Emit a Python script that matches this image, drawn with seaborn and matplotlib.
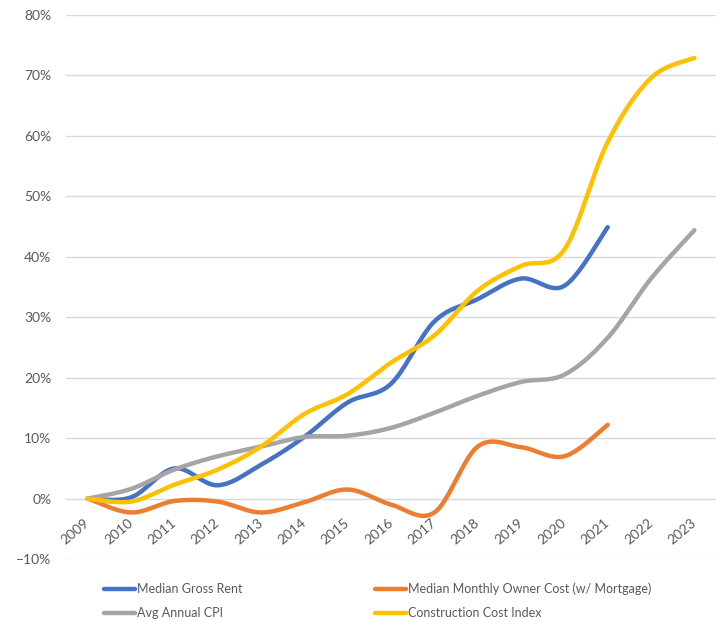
import matplotlib.pyplot as plt
import numpy as np
import pandas as pd
import seaborn as sns
from matplotlib.ticker import PercentFormatter

years = [2009, 2010, 2011, 2012, 2013, 2014, 2015, 2016, 2017, 2018, 2019, 2020, 2021, 2022, 2023]
median_gross_rent = [0.0, 0.2, 5.0, 2.2, 5.6, 10.2, 15.9, 19.0, 29.3, 33.0, 36.4, 35.2, 44.9, None, None]
owner_cost = [0.0, -2.3, -0.4, -0.5, -2.3, -0.6, 1.5, -1.0, -2.3, 8.6, 8.5, 7.0, 12.2, None, None]
avg_cpi = [0.0, 1.6, 4.8, 7.0, 8.6, 10.2, 10.4, 11.7, 14.2, 17.0, 19.3, 20.5, 26.6, 36.4, 44.4]
construction_index = [0.0, -0.5, 2.3, 4.8, 8.6, 14.0, 17.3, 22.5, 27.0, 34.4, 38.5, 41.2, 59.0, 69.6, 72.9]

series = {
    'Median Gross Rent': median_gross_rent,
    'Median Monthly Owner Cost (w/ Mortgage)': owner_cost,
    'Avg Annual CPI': avg_cpi,
    'Construction Cost Index': construction_index,
}
colors = {
    'Median Gross Rent': '#4472C4',
    'Median Monthly Owner Cost (w/ Mortgage)': '#ED7D31',
    'Avg Annual CPI': '#A5A5A5',
    'Construction Cost Index': '#FFC000',
}


def smooth(xs, ys, n=24):
    # Excel-style smoothed line: Bezier segments with Catmull-Rom control points
    pts = np.array([(x, y) for x, y in zip(xs, ys) if y is not None], dtype=float)
    out = []
    for i in range(len(pts) - 1):
        p0 = pts[max(i - 1, 0)]
        p1 = pts[i]
        p2 = pts[i + 1]
        p3 = pts[min(i + 2, len(pts) - 1)]
        c1 = p1 + (p2 - p0) / 6
        c2 = p2 - (p3 - p1) / 6
        t = np.linspace(0, 1, n, endpoint=(i == len(pts) - 2))[:, None]
        seg = (1 - t) ** 3 * p1 + 3 * (1 - t) ** 2 * t * c1 + 3 * (1 - t) * t ** 2 * c2 + t ** 3 * p2
        out.append(seg)
    return np.vstack(out)


frames = []
for name, vals in series.items():
    curve = smooth(range(len(years)), [v / 100 if v is not None else None for v in vals])
    frames.append(pd.DataFrame({'x': curve[:, 0], 'y': curve[:, 1], 'series': name}))
df = pd.concat(frames, ignore_index=True)

sns.set_theme(style='white')
plt.rcParams['font.family'] = ['Lato', 'DejaVu Sans']

fig = plt.figure(figsize=(7.24, 6.21), dpi=100)
ax = fig.add_axes([0.0912, 0.0998, 0.8978, 0.876])

sns.lineplot(data=df, x='x', y='y', hue='series', palette=colors, linewidth=3.2,
             sort=False, estimator=None, ax=ax, legend=False, solid_capstyle='round')

# category axis sits on the 0% line, as in Excel
ax.spines['bottom'].set_position(('data', 0))
for s in ax.spines.values():
    s.set_visible(False)

ax.set_xlim(-0.5, len(years) - 0.5)
ax.set_ylim(-0.1, 0.8)
ax.set_yticks(np.arange(-0.1, 0.81, 0.1))
ax.yaxis.set_major_formatter(PercentFormatter(1.0, decimals=0))
ax.yaxis.grid(True, color='#D9D9D9', linewidth=1)
ax.set_axisbelow(True)

ax.set_xticks(range(len(years)))
ax.set_xticklabels([str(y) for y in years], rotation=40, ha='right', va='center',
                   rotation_mode='anchor')
ax.tick_params(axis='both', length=0, labelsize=10, labelcolor='#595959')
ax.tick_params(axis='x', pad=16)
ax.tick_params(axis='y', pad=10.5)
ax.set_xlabel('')
ax.set_ylabel('')

order = ['Median Gross Rent', 'Avg Annual CPI', 'Median Monthly Owner Cost (w/ Mortgage)',
         'Construction Cost Index']
handles = [plt.Line2D([], [], color=colors[n], linewidth=3.2, solid_capstyle='round') for n in order]
fig.legend(handles, order, ncol=2, loc='center left', bbox_to_anchor=(0.128, 0.032),
           frameon=False, fontsize=9, labelcolor='#595959', handlelength=2.5,
           handletextpad=0.15, columnspacing=10.6, labelspacing=0.95)

fig.savefig('out.png', dpi=100)
